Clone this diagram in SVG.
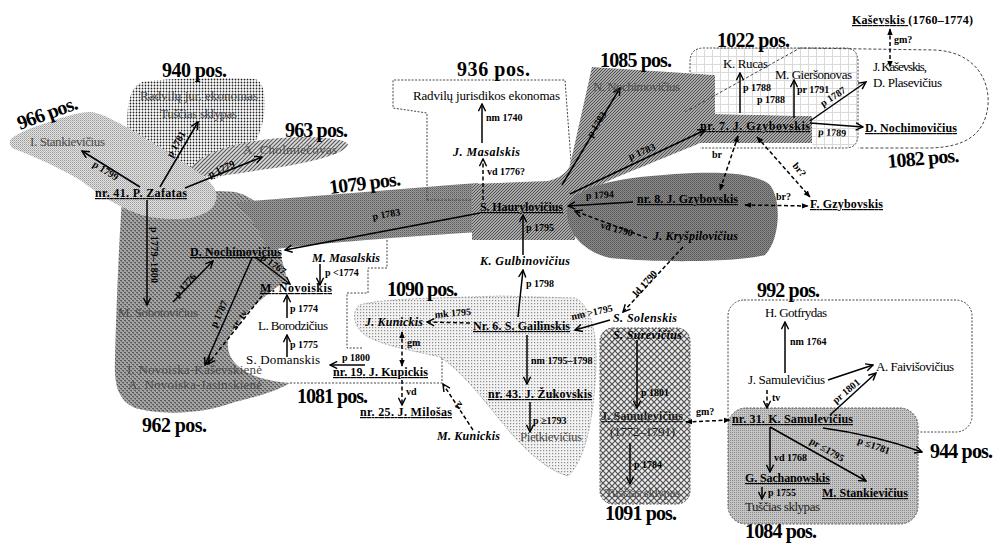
<svg xmlns="http://www.w3.org/2000/svg" width="995" height="544" viewBox="0 0 995 544">
<defs>
<style>
text{font-family:"Liberation Serif","Times New Roman",serif;fill:#000}
.n{font-size:13px}
.b{font-size:12px;font-weight:bold}
.u{text-decoration:underline}
.i{font-size:12px;font-weight:bold;font-style:italic}
.s{font-size:10px;font-weight:bold}
.p{font-size:20px;font-weight:bold}
.f{fill:#4a4a4a}
.c{stroke:#000;stroke-width:1.5;fill:none;marker-end:url(#a)}
.d{stroke-dasharray:4 2.5}
.dd{stroke:#000;stroke-width:1.5;fill:none;stroke-dasharray:4 2.5;marker-start:url(#t);marker-end:url(#t)}
.ol{fill:none;stroke:#444;stroke-width:1;stroke-dasharray:2 1.5}
</style>
<marker id="a" viewBox="0 0 10 10" refX="9" refY="5" markerWidth="9" markerHeight="9" markerUnits="userSpaceOnUse" orient="auto"><path d="M1,1 L9,5 L1,9" fill="none" stroke="#000" stroke-width="1.6"/></marker>
<marker id="t" viewBox="0 0 10 10" refX="9" refY="5" markerWidth="7" markerHeight="7" markerUnits="userSpaceOnUse" orient="auto-start-reverse"><path d="M0,1 L10,5 L0,9 Z" fill="#000"/></marker>
<pattern id="p940" width="3" height="3" patternUnits="userSpaceOnUse"><rect width="3" height="3" fill="#fff"/><circle cx="1.5" cy="1.5" r="0.9" fill="#222"/></pattern>
<pattern id="p966" width="2" height="2" patternUnits="userSpaceOnUse"><rect width="2" height="2" fill="#e2e2e2"/><rect width="1" height="1" fill="#9a9a9a"/><rect x="1" y="1" width="1" height="1" fill="#b8b8b8"/></pattern>
<pattern id="p963" width="4" height="4" patternUnits="userSpaceOnUse"><rect width="4" height="4" fill="#dcdcdc"/><path d="M-1,5 L5,-1 M-1,1 L1,-1 M3,5 L5,3" stroke="#5a5a5a" stroke-width="1.2"/></pattern>
<pattern id="p1079" width="2" height="2" patternUnits="userSpaceOnUse"><rect width="2" height="2" fill="#9a9a9a"/><rect width="1" height="1" fill="#5a5a5a"/><rect x="1" y="1" width="1" height="1" fill="#7a7a7a"/></pattern>
<pattern id="p962" width="4" height="4" patternUnits="userSpaceOnUse"><rect width="4" height="4" fill="#a4a4a4"/><rect width="2" height="1" fill="#5c5c5c"/><rect x="2" y="2" width="2" height="1" fill="#5c5c5c"/><rect x="1" y="1" width="1" height="1" fill="#777"/><rect x="3" y="3" width="1" height="1" fill="#777"/></pattern>
<pattern id="p1085" width="3" height="3" patternUnits="userSpaceOnUse"><rect width="3" height="3" fill="#cfcfcf"/><path d="M-1,4 L4,-1 M-1,1 L1,-1 M2,4 L4,2" stroke="#4a4a4a" stroke-width="1.1"/></pattern>
<pattern id="p1022" width="8" height="8" patternUnits="userSpaceOnUse"><rect width="8" height="8" fill="#fff"/><path d="M0,0.5 H8 M0.5,0 V8" stroke="#dadada" stroke-width="1"/></pattern>
<pattern id="p1090" width="3" height="3" patternUnits="userSpaceOnUse"><rect width="3" height="3" fill="#f2f2f2"/><rect width="1.2" height="1.2" fill="#8a8a8a"/></pattern>
<pattern id="p1091" width="6" height="6" patternUnits="userSpaceOnUse"><rect width="6" height="6" fill="#ececec"/><path d="M0,0 L6,6 M6,0 L0,6" stroke="#505050" stroke-width="1.2"/></pattern>
<pattern id="p1084" width="2" height="2" patternUnits="userSpaceOnUse"><rect width="2" height="2" fill="#c4c4c4"/><rect width="1" height="1" fill="#8c8c8c"/></pattern>
<pattern id="pblob" width="2" height="2" patternUnits="userSpaceOnUse"><rect width="2" height="2" fill="#8a8a8a"/><rect width="1" height="1" fill="#555"/><rect x="1" y="1" width="1" height="1" fill="#6a6a6a"/></pattern>
</defs>

<g id="regions">
  <g id="r962"><path d="M122,198 C150,196 200,188 235,192 C250,196 258,202 262,212 C272,232 282,255 287,280 C265,295 240,315 228,340 C225,365 250,380 290,383 C275,392 255,397 235,402 C200,415 160,415 135,408 C118,400 114,385 115,360 C116,320 118,260 122,198 Z" fill="url(#p962)"/></g>
  <g id="r940"><path d="M128,135 C126,110 128,88 142,82 C165,78 230,77 255,79 C266,82 267,105 262,125 C255,150 235,175 210,180 L150,160 Z" fill="url(#p940)"/></g>
  <g id="r963"><path d="M188,172 C200,150 250,138 300,137 C330,137 348,140 348,145 C345,155 300,165 260,170 C230,175 200,180 188,172 Z" fill="url(#p963)"/></g>
  <g id="r966"><path d="M10,144 C8,138 20,132 40,125 C60,118 78,112 90,112 C105,112 150,140 195,170 C215,183 222,195 212,208 C200,220 175,221 150,217 C125,212 100,195 80,180 C55,165 25,153 12,148 Z" fill="url(#p966)"/></g>
  <g id="r1079"><path d="M236,202 C320,196 400,189 478,183 L478,232 C400,237 320,243 268,250 C262,236 252,218 236,202 Z" fill="url(#p1079)"/></g>
  <g id="r936"><path class="ol" d="M427,200 L427,113 L393,108 L393,80 L565,80 L572,175 M427,200 L473,200"/></g>
  <g id="r1085"><path d="M592,67 L715,75 L715,114 L812,116 L812,143 L700,143 C660,160 620,175 600,185 C585,200 575,220 575,240 L472,240 L472,184 L548,181 C560,178 568,172 570,165 Z" fill="url(#p1085)"/></g>
  <g id="rblob"><path d="M567,213 C566,195 590,183 640,177 C690,172 750,168 770,185 C782,200 780,240 765,255 C740,262 660,263 610,258 C585,252 568,235 567,213 Z" fill="url(#pblob)"/></g>
  <g id="r1022"><path d="M715,75 L715,48 L845,48 Q858,48 858,62 L858,135 Q858,148 845,148 L812,148 L812,116 L715,114 Z" fill="url(#p1022)"/><path d="M690,50 L715,50 L715,75 L690,73 Z" fill="url(#p1022)"/><path d="M690,72 L690,62 Q690,48 704,48 L845,48 Q858,48 858,62 L858,135 Q858,148 845,148 L700,148" class="ol"/></g>
  <g id="r1082"><path class="ol" style="stroke-dasharray:3 2" d="M685,112 L800,48 L935,50 C975,52 990,80 988,105 C985,135 965,147 930,148 L858,148"/></g>
  <g id="r1081"><path class="ol" d="M387,240 L387,268 L368,268 L368,293 L347,293 L347,348 L362,348 M442,358 L442,383 L290,383"/></g>
  <g id="r1090"><path d="M360,305 C380,298 450,298 500,296 L575,298 C590,305 597,330 596,365 C594,420 585,460 568,476 C545,470 520,445 500,420 C480,395 460,370 440,357 C410,350 380,345 365,335 C352,325 352,310 360,305 Z" fill="url(#p1090)" stroke="#999" stroke-width="0.8" stroke-dasharray="2 1.5"/></g>
  <g id="r1091"><rect x="600" y="328" width="90" height="176" rx="13" fill="url(#p1091)" stroke="#555" stroke-dasharray="2 1.5"/></g>
  <g id="r992"><rect x="728" y="300" width="244" height="132" rx="16" class="ol"/></g>
  <g id="r1084"><rect x="728" y="408" width="190" height="116" rx="18" fill="url(#p1084)" stroke="#555" stroke-dasharray="2 1.5"/></g>
</g>

<g id="pos-labels">
  <text class="p" x="162" y="77" textLength="65">940 pos.</text>
  <text class="p" transform="translate(20,130) rotate(-20)" textLength="63">966 pos.</text>
  <text class="p" x="285" y="137" textLength="63">963 pos.</text>
  <text class="p" x="457" y="76" textLength="73">936 pos.</text>
  <text class="p" x="600" y="67" textLength="72">1085 pos.</text>
  <text class="p" x="717" y="47" textLength="73">1022 pos.</text>
  <text class="p" transform="translate(888,168) rotate(-5)" textLength="72">1082 pos.</text>
  <text class="p" transform="translate(330,194) rotate(-7)" textLength="72">1079 pos.</text>
  <text class="p" x="387" y="296" textLength="71">1090 pos.</text>
  <text class="p" x="297" y="403" textLength="71">1081 pos.</text>
  <text class="p" x="142" y="432" textLength="65">962 pos.</text>
  <text class="p" x="757" y="297" textLength="63">992 pos.</text>
  <text class="p" x="605" y="520" textLength="72">1091 pos.</text>
  <text class="p" x="745" y="538" textLength="72">1084 pos.</text>
  <text class="p" x="930" y="458" textLength="63">944 pos.</text>
</g>

<g id="connectors">
  <path class="c" d="M140,187 L82,151"/>
  <path class="c" d="M160,187 L198,122"/>
  <path class="c" d="M185,188 L262,157"/>
  <path class="c" d="M147,200 L147,305"/>
  <path class="c" d="M173,302 L213,261"/>
  <path class="c" d="M252,258 L205,365"/>
  <path class="c d" d="M262,296 L208,364"/>
  <path class="c" d="M255,257 L290,284"/>
  <path class="c" d="M480,213 L285,250"/>
  <path class="c" d="M320,264 L320,285"/>
  <path class="c" d="M287,318 L287,295"/>
  <path class="c" d="M287,357 L287,335"/>
  <path class="c" d="M365,365 L330,365"/>
  <path class="dd" d="M402,332 L402,366"/>
  <path class="c d" d="M402,380 L402,405"/>
  <path class="c d" d="M473,430 L443,384"/>
  <path class="c d" d="M470,323 L427,322"/>
  <path class="c" d="M518,317 L523,270"/>
  <path class="c" d="M523,255 L523,215"/>
  <path class="c" d="M527,335 L527,384"/>
  <path class="c" d="M530,402 L530,432"/>
  <path class="c" d="M610,320 L575,330"/>
  <path class="c d" d="M683,247 L623,312"/>
  <path class="c d" d="M647,238 L575,211"/>
  <path class="c" d="M633,202 L568,206"/>
  <path class="c" d="M482,143 L482,104"/>
  <path class="c d" d="M483,200 L483,159"/>
  <path class="c" d="M562,185 L620,88"/>
  <path class="c" d="M570,194 L705,130"/>
  <path class="dd" d="M738,136 L720,190"/>
  <path class="dd" d="M757,137 L810,197"/>
  <path class="dd" d="M745,205 L808,206"/>
  <path class="c" d="M740,113 L740,73"/>
  <path class="c" d="M794,118 L794,80"/>
  <path class="c" d="M810,121 L866,82"/>
  <path class="c" d="M810,123 L863,127"/>
  <path class="dd" d="M890,29 L890,67"/>
  <path class="c" d="M637,340 L637,408"/>
  <path class="c" d="M630,443 L630,484"/>
  <path class="dd" d="M686,422 L730,420"/>
  <path class="c" d="M828,380 L873,365"/>
  <path class="c" d="M830,415 L876,373"/>
  <path class="c" d="M785,373 L785,322"/>
  <path class="c d" d="M767,390 L767,408"/>
  <path class="c" d="M770,427 L770,472"/>
  <path class="c" d="M762,487 L762,499"/>
  <path class="c" d="M770,427 L866,481"/>
  <path class="c" d="M823,428 Q875,435 922,452"/>
</g>

<g id="connector-labels">
  <text class="s" transform="translate(92,166) rotate(32)">p 1799</text>
  <text class="s" transform="translate(172,158) rotate(-60)">p 1781</text>
  <text class="s" transform="translate(210,178) rotate(-25)">p 1779</text>
  <text class="s" transform="translate(151,227) rotate(90)" textLength="56">p 1779–1800</text>
  <text class="s" transform="translate(178,298) rotate(-48)">p 1776</text>
  <text class="s" transform="translate(216,328) rotate(-65)">p 1787</text>
  <text class="s" transform="translate(236,330) rotate(-55)">sr. tv</text>
  <text class="s" transform="translate(260,259) rotate(35)">p 1767</text>
  <text class="s" transform="translate(373,220) rotate(-10)">p 1783</text>
  <text class="s" x="325" y="276">p &lt;1774</text>
  <text class="s" x="290" y="312">p 1774</text>
  <text class="s" x="290" y="348">p 1775</text>
  <text class="s" x="342" y="361">p 1800</text>
  <text class="s" x="407" y="346">gm</text>
  <text class="s" x="406" y="395">vd</text>
  <text class="s" transform="translate(459,410) rotate(-60)">tv</text>
  <text class="s" transform="translate(435,318) rotate(-5)">mk 1795</text>
  <text class="s" x="486" y="121">nm 1740</text>
  <text class="s" x="487" y="175">vd 1776?</text>
  <text class="s" x="526" y="231">p 1795</text>
  <text class="s" x="526" y="287">p 1798</text>
  <text class="s" x="531" y="364">nm 1795–1798</text>
  <text class="s" x="533" y="424">p ≥1793</text>
  <text class="s" transform="translate(572,320) rotate(-12)">nm &gt;1795</text>
  <text class="s" transform="translate(637,297) rotate(-48)">ld 1790</text>
  <text class="s" transform="translate(600,228) rotate(15)">vd 1790</text>
  <text class="s" transform="translate(586,199) rotate(-3)">p 1794</text>
  <text class="s" transform="translate(592,138) rotate(-58)">p 1783</text>
  <text class="s" transform="translate(630,160) rotate(-22)">p 1783</text>
  <text class="s" x="712" y="158">br</text>
  <text class="s" transform="translate(792,166) rotate(50)">br?</text>
  <text class="s" x="776" y="200">br?</text>
  <text class="s" x="743" y="91">p 1788</text>
  <text class="s" x="757" y="103">p 1788</text>
  <text class="s" x="797" y="93">pr 1791</text>
  <text class="s" transform="translate(823,107) rotate(-33)">p 1787</text>
  <text class="s" transform="translate(818,135) rotate(3)">p 1789</text>
  <text class="s" x="894" y="43">gm?</text>
  <text class="s" x="641" y="396">p 1801</text>
  <text class="s" x="634" y="468">p 1784</text>
  <text class="s" x="696" y="415">gm?</text>
  <text class="s" x="790" y="345">nm 1764</text>
  <text class="s" transform="translate(836,404) rotate(-40)">pr 1801</text>
  <text class="s" x="772" y="401">tv</text>
  <text class="s" x="774" y="461">vd 1768</text>
  <text class="s" x="768" y="496">p 1755</text>
  <text class="s" transform="translate(809,443) rotate(30)">pr ≤1795</text>
  <text class="s" transform="translate(857,443) rotate(20)">p ≤1781</text>
</g>

<g id="nodes">
  <g id="n-radvilu-jur"><text class="n f" x="140" y="100" textLength="118">Radvilų jur. ekonomas</text></g>
  <g id="n-tuscias-940"><text class="n f" x="160" y="118" textLength="77">Tuščias sklypas</text></g>
  <g id="n-i-stankievicius"><text class="n f" x="30" y="146" textLength="75">I. Stankievičius</text></g>
  <g id="n-cholmiecovas"><text class="n f" x="243" y="154" textLength="94">A. Cholmiečovas</text></g>
  <g id="n-zafatas"><text class="b u" x="95" y="197" textLength="92">nr. 41. P. Zafatas</text></g>
  <g id="n-sobotovicius"><text class="n f" x="118" y="317" textLength="80">M. Sobotovičius</text></g>
  <g id="n-novoiska"><text class="n f" x="127" y="374" textLength="135">I. Novoiska-Kaševskienė</text><text class="n f" x="128" y="389" textLength="134">A. Novoiska-Jasinskienė</text></g>
  <g id="n-d-nochimovicius-l"><text class="b u" x="190" y="256" textLength="92">D. Nochimovičius</text></g>
  <g id="n-m-masalskis"><text class="i" x="312" y="262" textLength="68">M. Masalskis</text></g>
  <g id="n-novoiskis"><text class="b u" x="260" y="292" textLength="72">M. Novoiskis</text></g>
  <g id="n-borodzicius"><text class="n" x="258" y="330" textLength="70">L. Borodzičius</text></g>
  <g id="n-domanskis"><text class="n" x="246" y="364" textLength="74">S. Domanskis</text></g>
  <g id="n-kupickis"><text class="b u" x="333" y="376" textLength="95">nr. 19. J. Kupickis</text></g>
  <g id="n-milosas"><text class="b u" x="360" y="416" textLength="92">nr. 25. J. Milošas</text></g>
  <g id="n-m-kunickis"><text class="i" x="437" y="440" textLength="63">M. Kunickis</text></g>
  <g id="n-j-kunickis"><text class="i" x="365" y="326" textLength="58">J. Kunickis</text></g>
  <g id="n-gailinskis"><text class="b u" x="473" y="330" textLength="97">Nr. 6. S. Gailinskis</text></g>
  <g id="n-gulbinovicius"><text class="i" x="480" y="265" textLength="90">K. Gulbinovičius</text></g>
  <g id="n-haurylovicius"><text class="b u" x="480" y="211" textLength="83">S. Haurylovičius</text></g>
  <g id="n-zukovskis"><text class="b u" x="488" y="398" textLength="104">nr. 43. J. Žukovskis</text></g>
  <g id="n-pietkievicius"><text class="n f" x="520" y="441" textLength="62">Pietkievičius</text></g>
  <g id="n-radvilu-jurisdikos"><text class="n" x="413" y="100" textLength="147">Radvilų jurisdikos ekonomas</text></g>
  <g id="n-j-masalskis"><text class="i" x="453" y="156" textLength="67">J. Masalskis</text></g>
  <g id="n-n-nochimovicius"><text class="n f" x="593" y="91" textLength="87">N. Nochimovičius</text></g>
  <g id="n-gzybovskis7"><text class="b u" x="700" y="130" textLength="110">nr. 7. J. Gzybovskis</text></g>
  <g id="n-k-rucas"><text class="n" x="723" y="68" textLength="45">K. Rucas</text></g>
  <g id="n-giersonovas"><text class="n" x="775" y="79" textLength="77">M. Gieršonovas</text></g>
  <g id="n-kasevskis-top"><text class="b" x="852" y="24" textLength="121"><tspan class="u">Kaševskis </tspan>(1760–1774)</text></g>
  <g id="n-kasevskis-plasevicius"><text class="n" x="873" y="71" textLength="54">J. Kaševskis,</text><text class="n" x="873" y="87" textLength="69">D. Plasevičius</text></g>
  <g id="n-d-nochimovicius-r"><text class="b u" x="865" y="132" textLength="92">D. Nochimovičius</text></g>
  <g id="n-gzybovskis8"><text class="b u" x="637" y="203" textLength="101">nr. 8. J. Gzybovskis</text></g>
  <g id="n-f-gzybovskis"><text class="b u" x="810" y="208" textLength="73">F. Gzybovskis</text></g>
  <g id="n-kryspilovicius"><text class="i" x="653" y="240" textLength="85">J. Kryšpilovičius</text></g>
  <g id="n-solenskis"><text class="i" x="613" y="322" textLength="64">S. Solenskis</text></g>
  <g id="n-surevicius"><text class="i" x="613" y="339" textLength="69">S. Surevičius</text></g>
  <g id="n-j-samulevicius-1091"><text class="b u" x="601" y="420" textLength="82" style="fill:#222">J. Samulevičius</text><text class="n" x="610" y="436" textLength="65" style="fill:#222">(1772–1791)</text></g>
  <g id="n-tuscias-1091"><text class="n f" x="605" y="497" textLength="75">Tuščias sklypas</text></g>
  <g id="n-gotfrydas"><text class="n" x="765" y="317" textLength="62">H. Gotfrydas</text></g>
  <g id="n-j-samulevicius-992"><text class="n" x="748" y="384" textLength="77">J. Samulevičius</text></g>
  <g id="n-faivisovicius"><text class="n" x="876" y="371" textLength="78">A. Faivišovičius</text></g>
  <g id="n-k-samulevicius"><text class="b u" x="732" y="423" textLength="121">nr. 31. K. Samulevičius</text></g>
  <g id="n-sachanowskis"><text class="b u" x="745" y="482" textLength="85">G. Sachanowskis</text></g>
  <g id="n-tuscias-1084"><text class="n" x="745" y="511" textLength="75" style="fill:#222">Tuščias sklypas</text></g>
  <g id="n-m-stankievicius"><text class="b u" x="822" y="497" textLength="86">M. Stankievičius</text></g>
</g>
</svg>
